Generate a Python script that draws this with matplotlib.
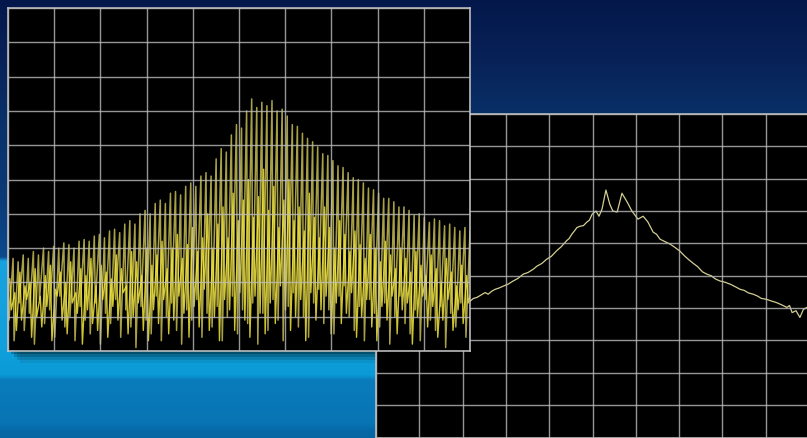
import numpy as np
import matplotlib
matplotlib.use("Agg")
import matplotlib.pyplot as plt
from matplotlib.patches import Rectangle

W, H = 807, 439

# Raw trace (left scope), grid divisions (0 = bottom, 10 = top):
# comb peaks and the trough after each, plus the smaller ripple in between.
peaks = [
    2.5, 2.7, 2.6, 2.8, 2.7, 2.9, 2.8, 3.0, 2.9, 3.05,
    3.0, 3.15, 3.1, 3.0, 3.2, 3.25, 3.2, 3.35, 3.4, 3.3,
    3.5, 3.55, 3.45, 3.7, 3.8, 3.7, 4.0, 4.1, 4.0, 4.3,
    4.4, 4.3, 4.6, 4.65, 4.55, 4.8, 4.9, 4.8, 5.1, 5.2,
    5.1, 5.6, 5.9, 5.8, 6.3, 6.6, 6.5, 7.0, 7.35, 7.1,
    7.25, 7.15, 7.3, 7.0, 7.05, 6.85, 6.6, 6.55, 6.35, 6.2,
    6.1, 5.95, 5.75, 5.7, 5.55, 5.4, 5.35, 5.2, 5.05, 5.0,
    4.9, 4.75, 4.7, 4.6, 4.45, 4.45, 4.35, 4.2, 4.2, 4.1,
    3.95, 4.0, 3.9, 3.75, 3.85, 3.8, 3.65, 3.7, 3.6, 3.5,
    3.6, 3.5,
]
lows = [
    0.9, 0.3, 1.4, 0.6, 1.1, 0.2, 1.5, 0.8, 1.2, 0.4,
    1.6, 0.7, 1.0, 0.3, 1.3, 0.9, 0.5, 1.4, 0.2, 1.1,
    0.8, 1.5, 0.4, 1.2, 0.7, 0.1, 1.3, 0.9, 0.5, 1.6,
    0.3, 1.0, 1.4, 0.6, 0.2, 1.2, 0.9, 1.5, 0.4, 1.1,
    0.7, 1.3, 0.3, 1.0, 1.6, 0.5, 1.2, 0.8, 1.4, 0.2,
    1.1, 0.6, 1.5, 0.9, 0.3, 1.3, 1.7, 0.7, 1.0, 0.4,
    1.4, 1.8, 0.8, 1.2, 0.5, 1.6, 1.9, 1.0, 0.6, 1.3,
    0.3, 1.5, 1.1, 0.7, 1.4, 0.2, 1.0, 1.6, 0.8, 0.5,
    1.2, 0.3, 1.5, 0.9, 0.6, 1.3, 0.1, 1.1, 0.7, 1.4,
    0.4, 1.0,
]
mids = [
    2.1, 1.7, 2.3, 1.9, 2.0, 2.4, 1.6, 2.2, 2.5, 1.8,
    2.3, 2.0, 2.6, 1.7, 2.4, 2.2, 2.7, 1.9, 2.5, 2.3,
    2.1, 2.8, 2.4, 1.9, 2.9, 2.6, 2.2, 3.0, 2.5, 2.8,
    3.2, 2.4, 3.0, 3.4, 2.7, 3.1, 3.6, 2.9, 3.3, 4.0,
    3.0, 3.7, 4.2, 3.3, 4.6, 3.8, 4.4, 5.0, 3.9, 4.5,
    5.3, 4.1, 4.8, 3.6, 4.4, 5.0, 3.8, 4.2, 3.5, 4.6,
    3.9, 3.3, 4.2, 3.6, 3.0, 3.8, 3.4, 2.9, 3.5, 3.1,
    2.7, 3.4, 3.0, 2.6, 3.2, 2.8, 2.4, 3.0, 2.7, 2.3,
    2.9, 2.5, 2.2, 2.8, 2.4, 2.0, 2.7, 2.3, 1.9, 2.5,
    2.2, 1.8,
]
lows2 = [
    1.2, 0.6, 0.9, 1.5, 0.4, 1.0, 0.7, 1.3, 0.3, 1.6,
    0.9, 0.5, 1.4, 1.1, 0.2, 1.2, 0.8, 0.6, 1.5, 0.4,
    1.3, 0.9, 1.7, 0.5, 1.0, 1.4, 0.6, 0.3, 1.2, 0.8,
    1.5, 0.5, 0.9, 1.6, 1.1, 0.4, 1.3, 0.7, 1.8, 0.6,
    1.0, 0.3, 1.5, 1.2, 0.6, 1.7, 0.9, 0.4, 1.6, 1.1,
    0.5, 1.4, 0.8, 1.9, 1.2, 0.6, 1.0, 1.5, 0.3, 1.7,
    0.9, 1.2, 1.6, 0.5, 1.4, 0.8, 1.1, 1.7, 0.4, 1.0,
    1.5, 0.7, 0.3, 1.3, 0.9, 1.6, 0.5, 1.2, 1.4, 0.2,
    1.0, 1.6, 0.7, 1.3, 0.4, 0.9, 1.5, 0.6, 1.2, 0.8,
    1.4, 0.5,
]

# Averaged spectrum (right scope), grid divisions
avg_x = [2.00, 2.10, 2.17, 2.25, 2.33, 2.42, 2.52, 2.59, 2.67, 2.75,
         2.84, 2.94, 3.05, 3.17, 3.28, 3.40, 3.51, 3.63, 3.72, 3.83,
         3.94, 4.05, 4.17, 4.28, 4.40, 4.46, 4.52, 4.58, 4.64, 4.71,
         4.79, 4.87, 4.93, 4.99, 5.08, 5.15, 5.22, 5.31, 5.40, 5.47,
         5.57, 5.68, 5.80, 5.91, 6.05, 6.17, 6.28, 6.40, 6.48, 6.56,
         6.68, 6.79, 6.90, 7.02, 7.12, 7.22, 7.33, 7.43, 7.54, 7.64,
         7.74, 7.84, 7.94, 8.06, 8.18, 8.30, 8.41, 8.50, 8.60, 8.71,
         8.80, 8.90, 9.02, 9.13, 9.25, 9.37, 9.49, 9.55, 9.61, 9.70,
         9.79, 9.87, 9.95, 10.0]
avg_y = [4.15, 4.22, 4.21, 4.30, 4.33, 4.40, 4.48, 4.43, 4.52, 4.58,
         4.62, 4.68, 4.74, 4.84, 4.92, 5.05, 5.10, 5.20, 5.30, 5.38,
         5.51, 5.60, 5.77, 5.90, 6.08, 6.15, 6.28, 6.38, 6.49, 6.53,
         6.55, 6.66, 6.72, 6.90, 7.00, 6.84, 7.06, 7.65, 7.21, 7.00,
         6.97, 7.55, 7.28, 7.00, 6.75, 6.84, 6.66, 6.35, 6.28, 6.13,
         6.05, 5.98, 5.88, 5.76, 5.62, 5.50, 5.38, 5.28, 5.12, 5.05,
         5.00, 4.90, 4.84, 4.80, 4.74, 4.66, 4.58, 4.55, 4.47, 4.43,
         4.38, 4.30, 4.27, 4.22, 4.17, 4.10, 4.02, 4.08, 3.86, 3.92,
         3.71, 3.96, 4.02, 3.95]

GRID_COLOR = "#bcbcbc"


def frac(x0, y0, x1, y1):
    """Pixel box (top-left origin) -> figure fraction rect."""
    return [x0 / W, 1 - y1 / H, (x1 - x0) / W, (y1 - y0) / H]


def scope_axes(fig, rect, z):
    ax = fig.add_axes(rect, zorder=z)
    ax.set_facecolor("black")
    ax.set_xlim(0, 10)
    ax.set_ylim(0, 10)
    ax.set_xticks(range(11))
    ax.set_yticks(range(11))
    ax.tick_params(length=0, labelbottom=False, labelleft=False)
    ax.grid(True, color=GRID_COLOR, linewidth=1.0, alpha=0.8)
    ax.set_axisbelow(False)
    for s in ax.spines.values():
        s.set_color("#c8c8c8")
        s.set_linewidth(1.1)
    return ax


fig = plt.figure(figsize=(W / 100, H / 100), dpi=100)

# Backdrop
bg = fig.add_axes([0, 0, 1, 1], zorder=0)
bg.set_xlim(0, W)
bg.set_ylim(H, 0)
bg.axis("off")
stops_y = [0, 60, 115, 200, 258, 262, 350, 376, 381, 424, 432, 439]
stops_c = ["#04174a", "#082257", "#092f67", "#0b3a78", "#0b4a8c", "#18a2de",
           "#10a0dc", "#0a9ad6", "#0a7cbc", "#0874b4", "#0668a6", "#0666a4"]
rgb = np.array([matplotlib.colors.to_rgb(c) for c in stops_c])
yy = np.arange(H) + 0.5
col = np.stack([np.interp(yy, stops_y, rgb[:, k]) for k in range(3)], axis=1)
bg.imshow(col[:, None, :], extent=(0, W, H, 0), aspect="auto", interpolation="bilinear")
# soft shadow under the front scope
for off, a in [(3, 0.25), (6, 0.18), (9, 0.12), (12, 0.07)]:
    bg.add_patch(Rectangle((8 + off, 352 - 4), 462, 4 + off, color="black",
                           alpha=a, linewidth=0))

# Right (averaged) scope, partially hidden behind the left one
ax_r = scope_axes(fig, frac(376, 115, 809, 438.5), 1)
ax_r.plot(avg_x, avg_y, color="#d3ce92", linewidth=0.9)

# Left (raw) scope
ax_l = scope_axes(fig, frac(8, 9, 470, 352), 2)
n = len(peaks)
xp = np.linspace(0, 10, n)
step = xp[1] - xp[0]
comb_x, comb_y = [], []
rip_x, rip_y = [], []
for i in range(n):
    comb_x += [xp[i], xp[i] + 0.2 * step]
    comb_y += [peaks[i], lows[i]]
    rip_x += [xp[i] + 0.35 * step, xp[i] + 0.65 * step]
    rip_y += [mids[i], lows2[i]]
ax_l.plot(comb_x, comb_y, color="#d2c95a", linewidth=1.1, alpha=0.8)
ax_l.plot(rip_x, rip_y, color="#f3e63a", linewidth=1.0, alpha=0.85)

fig.savefig("out.png", dpi=100, facecolor=fig.get_facecolor())
